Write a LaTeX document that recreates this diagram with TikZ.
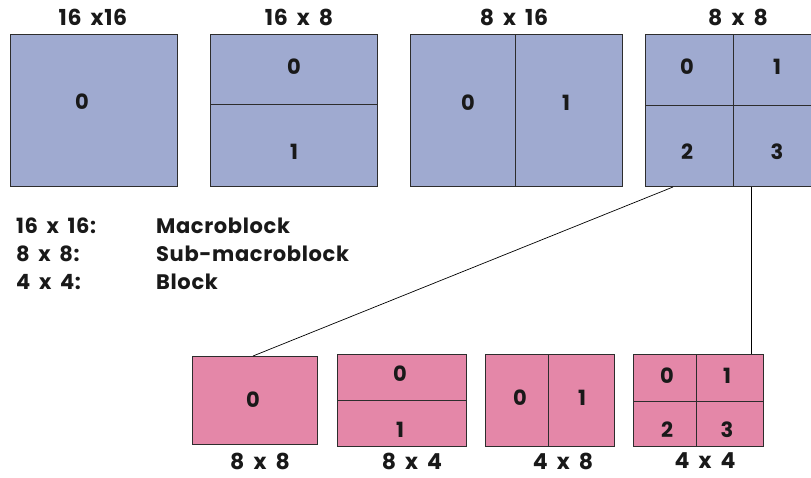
\documentclass[tikz,border=0pt]{standalone}
\usepackage{fontspec}
\setmainfont{Poppins}
\newfontfamily\widefont{Poppins}[LetterSpace=3, WordSpace=1.7]
\usetikzlibrary{calc}
\definecolor{mbblue}{RGB}{159,170,208}
\definecolor{sbpink}{RGB}{228,135,168}
\definecolor{edge}{RGB}{45,45,45}
\tikzset{
  part/.style={draw=edge, line width=1pt, anchor=north west, inner sep=0pt},
  mbbox/.style={part, fill=mbblue},
  sbbox/.style={part, fill=sbpink},
  split/.style={draw=edge, line width=0.9pt},
  num/.style={font=\bfseries\fontsize{21}{21}\selectfont, text=black!90, inner sep=0pt},
  title/.style={font=\widefont\bfseries\fontsize{22}{22}\selectfont, text=black!90, inner sep=0pt, text depth=0pt},
  legend/.style={font=\widefont\bfseries\fontsize{21}{21}\selectfont, text=black!90, inner sep=0pt, anchor=west},
  link/.style={draw=black, line width=0.7pt}
}
\begin{document}
\begin{tikzpicture}[x=1pt,y=-1pt]
\useasboundingbox (0,0) rectangle (811,477);

% --- macroblock partitions (top row) ---
\node[mbbox, minimum width=167pt, minimum height=152pt] (m1) at (10,34) {};
\node[mbbox, minimum width=167pt, minimum height=152pt] (m2) at (210,34) {};
\node[mbbox, minimum width=212pt, minimum height=152pt] (m3) at (410,34) {};
\node[mbbox, minimum width=168pt, minimum height=152pt] (m4) at (645,34) {};
\draw[split] (m2.west |- 0,104) -- (m2.east |- 0,104);
\draw[split] (515,0 |- m3.north) -- (515,0 |- m3.south);
\draw[split] (733,0 |- m4.north) -- (733,0 |- m4.south);
\draw[split] (m4.west |- 0,105) -- (m4.east |- 0,105);

\node[title] (t1) at (93,17) {16 x16};
\node[title] (t2) at (299,17) {16 x 8};
\node[title] (t3) at (514,17) {8 x 16};
\node[title] (t4) at (738,17) {8 x 8};

\node[num] (m1a) at (82,102) {0};
\node[num] (m2a) at (294,67) {0};
\node[num] (m2b) at (294,152) {1};
\node[num] (m3a) at (468,103) {0};
\node[num] (m3b) at (566,103) {1};
\node[num] (m4a) at (687,67) {0};
\node[num] (m4b) at (777,67) {1};
\node[num] (m4c) at (687,152) {2};
\node[num] (m4d) at (777,152) {3};

% --- legend ---
\node[legend] (l1) at (16,226) {16 x 16:};
\node[legend] (l2) at (16,254) {8 x 8:};
\node[legend] (l3) at (16,282) {4 x 4:};
\node[legend] (d1) at (156,226) {Macroblock};
\node[legend] (d2) at (156,254) {Sub-macroblock};
\node[legend] (d3) at (156,282) {Block};

% --- sub-macroblock partitions (bottom row) ---
\node[sbbox, minimum width=125pt, minimum height=88pt] (s1) at (192,356) {};
\node[sbbox, minimum width=129pt, minimum height=92pt] (s2) at (337,354) {};
\node[sbbox, minimum width=129pt, minimum height=92pt] (s3) at (485,354) {};
\node[sbbox, minimum width=130pt, minimum height=92pt] (s4) at (633,354) {};
\draw[split] (s2.west |- 0,400) -- (s2.east |- 0,400);
\draw[split] (548,0 |- s3.north) -- (548,0 |- s3.south);
\draw[split] (696,0 |- s4.north) -- (696,0 |- s4.south);
\draw[split] (s4.west |- 0,401) -- (s4.east |- 0,401);

\node[num] (s1a) at (253,400) {0};
\node[num] (s2a) at (400,374) {0};
\node[num] (s2b) at (400,430) {1};
\node[num] (s3a) at (520,398) {0};
\node[num] (s3b) at (582,398) {1};
\node[num] (s4a) at (667,376) {0};
\node[num] (s4b) at (727,376) {1};
\node[num] (s4c) at (667,430) {2};
\node[num] (s4d) at (727,430) {3};

\node[title] (u1) at (260,461) {8 x 8};
\node[title] (u2) at (412,461) {8 x 4};
\node[title] (u3) at (563,461) {4 x 8};
\node[title] (u4) at (705,461) {4 x 4};

% --- expansion of one 8x8 sub-macroblock ---
\coordinate (from1) at (673,0 |- m4.south);
\coordinate (to1) at (253,0 |- s1.north);
\coordinate (from2) at (751,0 |- m4.south);
\coordinate (to2) at (751,0 |- s4.north);
\draw[link] (from1) -- (to1);
\draw[link] (from2) -- (to2);
\end{tikzpicture}
\end{document}
